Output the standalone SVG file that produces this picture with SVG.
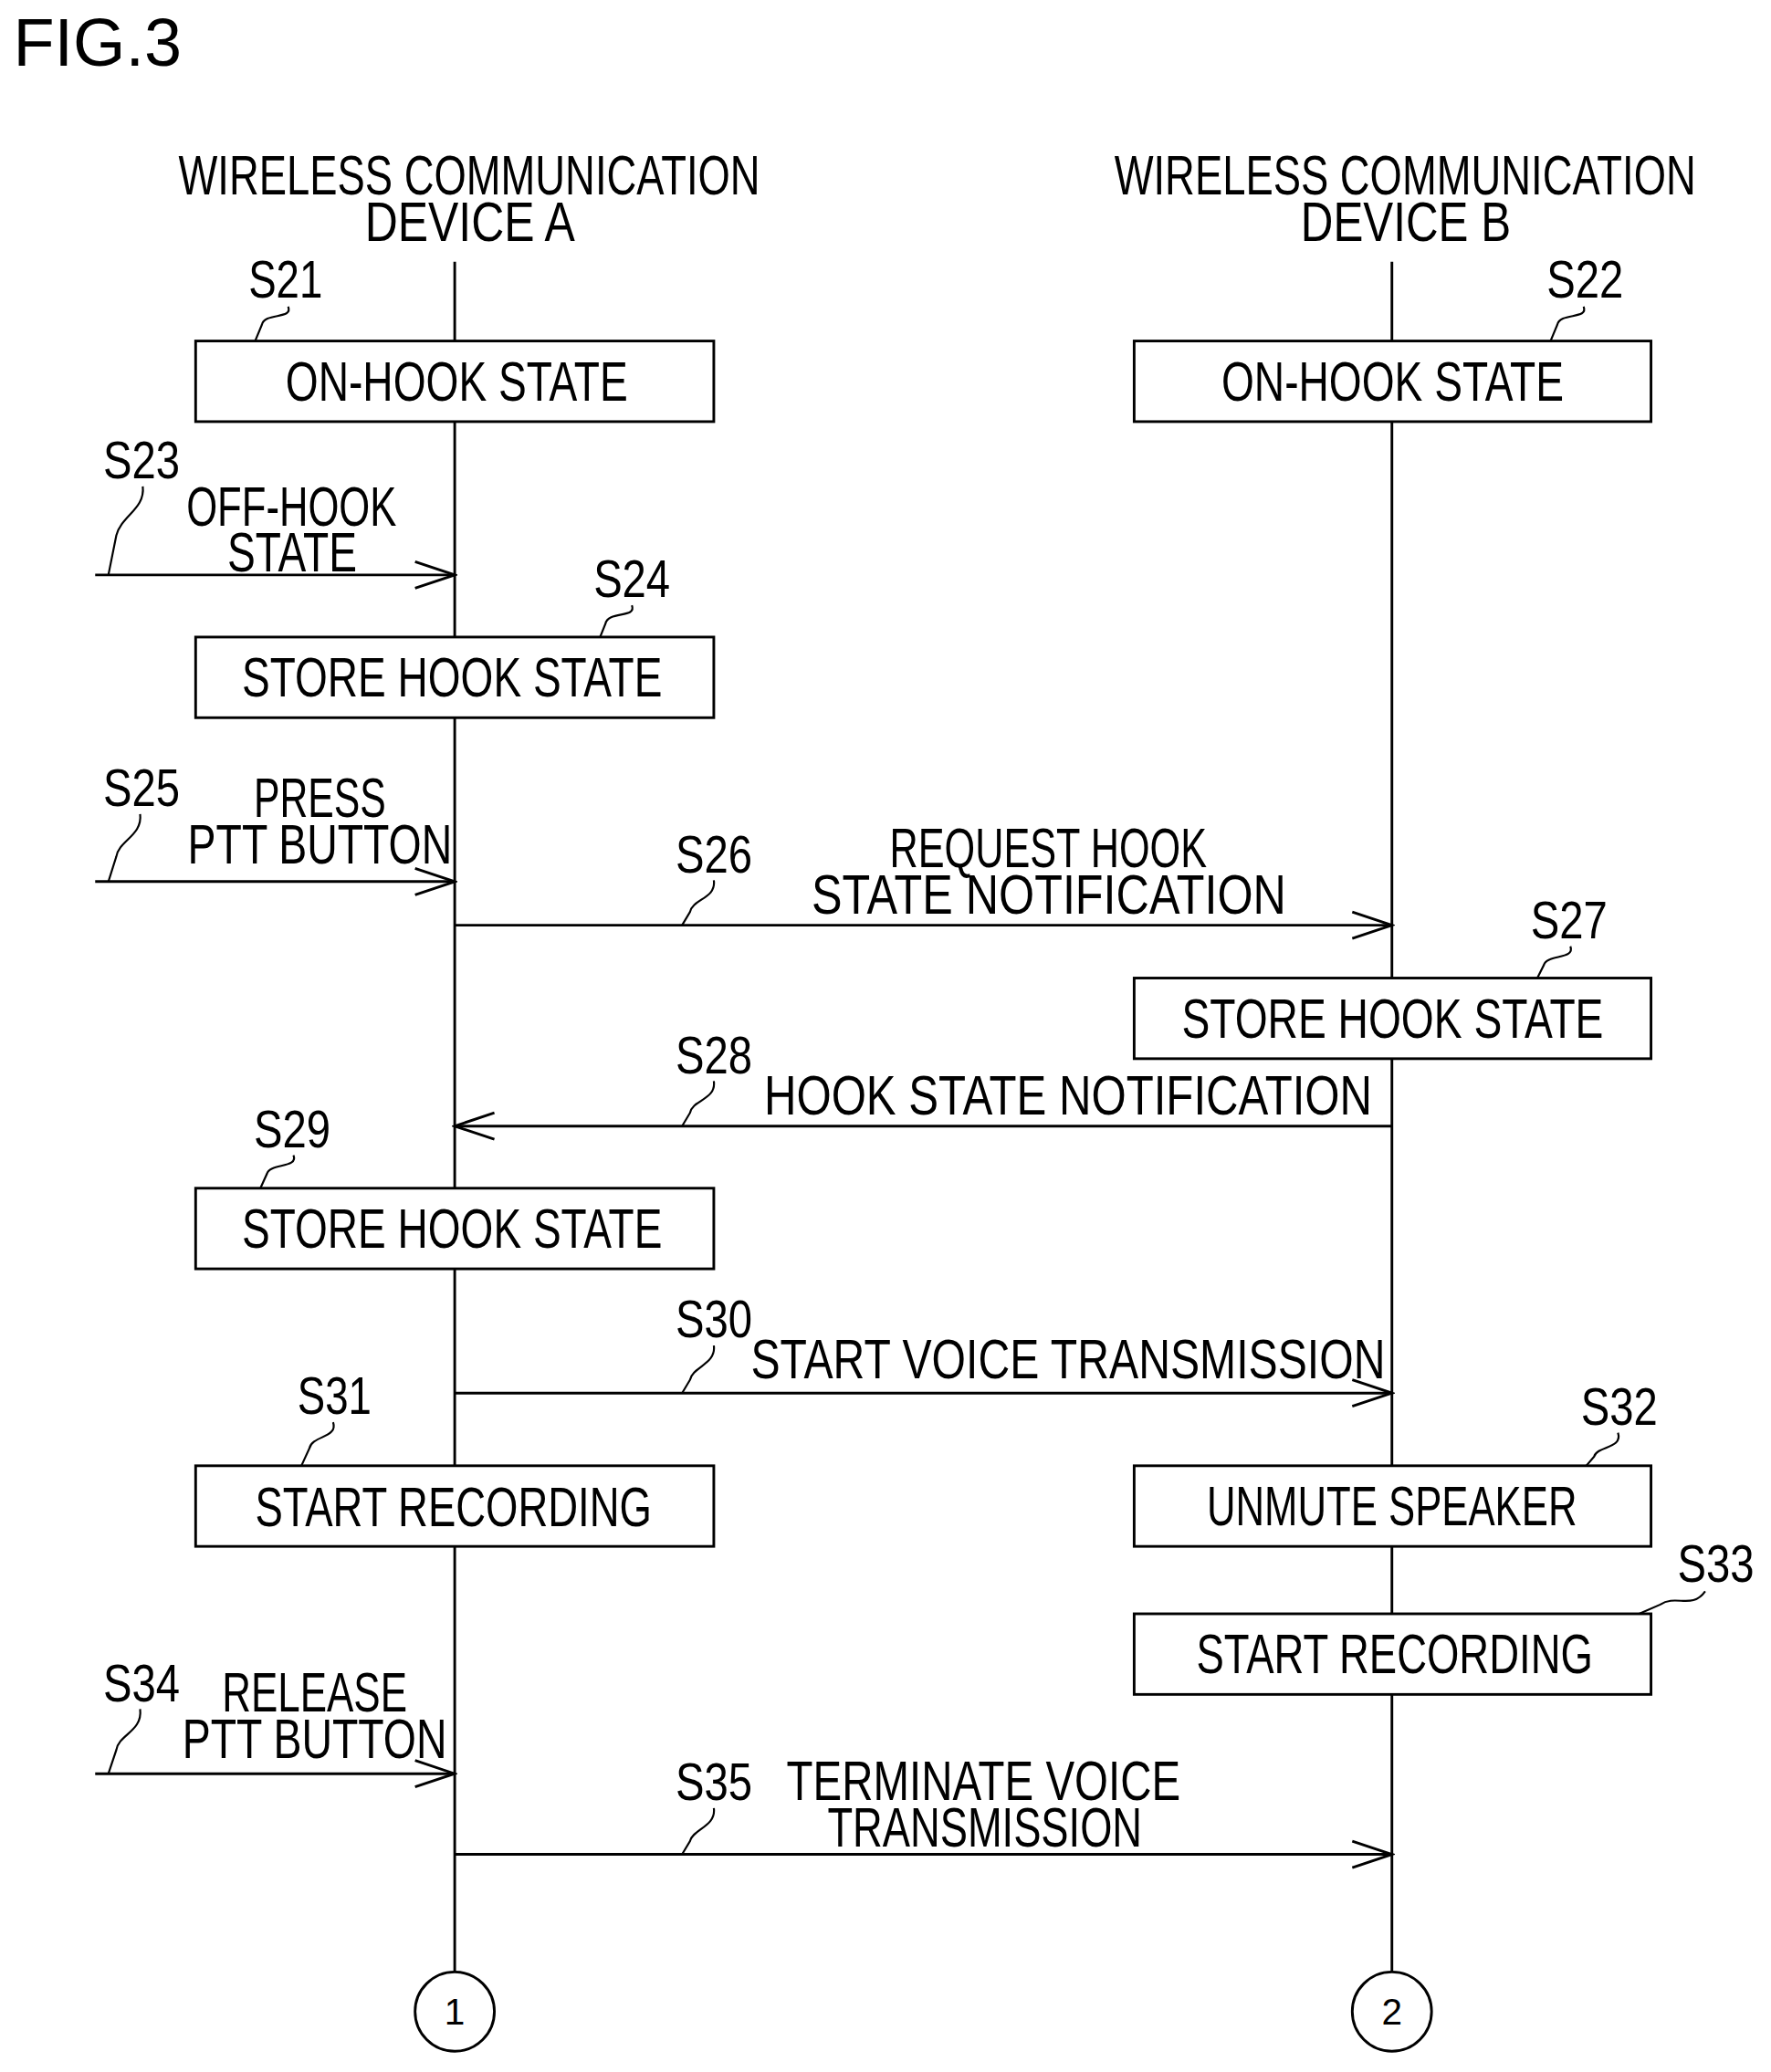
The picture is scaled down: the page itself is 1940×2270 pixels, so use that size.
<svg xmlns="http://www.w3.org/2000/svg" width="1940" height="2270" viewBox="0 0 1940 2270">
<defs>
<style>
.t{font-family:"Liberation Sans",Arial,sans-serif;font-size:42px;fill:#000}
.s{font-family:"Liberation Sans",Arial,sans-serif;font-size:40px;fill:#000}
.ln{stroke:#000;stroke-width:2;fill:none}
.bx{stroke:#000;stroke-width:2;fill:#fff}
.ld{stroke:#000;stroke-width:1.5;fill:none}
</style>
<marker id="ah" markerWidth="34" markerHeight="24" refX="32" refY="12" orient="auto" markerUnits="userSpaceOnUse">
<path d="M2,2 L32,12 L2,22" fill="none" stroke="#000" stroke-width="2"/>
</marker>
</defs>
<rect width="1940" height="2270" fill="#fff"/>
<g transform="scale(1.448,1.448)">
<text x="10" y="50" style="font-family:'Liberation Sans',Arial,sans-serif;font-size:51px">FIG.3</text>

<g id="lifelines">
<line class="ln" x1="344" y1="198" x2="344" y2="1492"/>
<line class="ln" x1="1053" y1="198" x2="1053" y2="1492"/>
</g>
<g id="headerA">
<text class="t" x="135" y="147" textLength="440" lengthAdjust="spacingAndGlyphs">WIRELESS COMMUNICATION</text>
<text class="t" x="276" y="182" textLength="159" lengthAdjust="spacingAndGlyphs">DEVICE A</text>
</g>
<g id="headerB">
<text class="t" x="843" y="147" textLength="440" lengthAdjust="spacingAndGlyphs">WIRELESS COMMUNICATION</text>
<text class="t" x="984" y="182" textLength="159" lengthAdjust="spacingAndGlyphs">DEVICE B</text>
</g>

<g id="connectors">
<line class="ln" x1="72" y1="435" x2="344" y2="435" marker-end="url(#ah)"/>
<line class="ln" x1="72" y1="667" x2="344" y2="667" marker-end="url(#ah)"/>
<line class="ln" x1="344" y1="700" x2="1053" y2="700" marker-end="url(#ah)"/>
<line class="ln" x1="1053" y1="852" x2="344" y2="852" marker-end="url(#ah)"/>
<line class="ln" x1="344" y1="1054" x2="1053" y2="1054" marker-end="url(#ah)"/>
<line class="ln" x1="72" y1="1342" x2="344" y2="1342" marker-end="url(#ah)"/>
<line class="ln" x1="344" y1="1403" x2="1053" y2="1403" marker-end="url(#ah)"/>
</g>

<g id="S21"><rect class="bx" x="148" y="258" width="392" height="61"/><text class="t" x="216" y="303" textLength="259" lengthAdjust="spacingAndGlyphs">ON-HOOK STATE</text></g>
<g id="S22"><rect class="bx" x="858" y="258" width="391" height="61"/><text class="t" x="924" y="303" textLength="259" lengthAdjust="spacingAndGlyphs">ON-HOOK STATE</text></g>
<g id="S24"><rect class="bx" x="148" y="482" width="392" height="61"/><text class="t" x="183" y="527" textLength="318" lengthAdjust="spacingAndGlyphs">STORE HOOK STATE</text></g>
<g id="S27"><rect class="bx" x="858" y="740" width="391" height="61"/><text class="t" x="894" y="785" textLength="319" lengthAdjust="spacingAndGlyphs">STORE HOOK STATE</text></g>
<g id="S29"><rect class="bx" x="148" y="899" width="392" height="61"/><text class="t" x="183" y="944" textLength="318" lengthAdjust="spacingAndGlyphs">STORE HOOK STATE</text></g>
<g id="S31"><rect class="bx" x="148" y="1109" width="392" height="61"/><text class="t" x="193" y="1155" textLength="300" lengthAdjust="spacingAndGlyphs">START RECORDING</text></g>
<g id="S32"><rect class="bx" x="858" y="1109" width="391" height="61"/><text class="t" x="913" y="1154" textLength="280" lengthAdjust="spacingAndGlyphs">UNMUTE SPEAKER</text></g>
<g id="S33"><rect class="bx" x="858" y="1221" width="391" height="61"/><text class="t" x="905" y="1266" textLength="300" lengthAdjust="spacingAndGlyphs">START RECORDING</text></g>

<g id="msgtexts">
<text class="t" x="141" y="398" textLength="159" lengthAdjust="spacingAndGlyphs">OFF-HOOK</text>
<text class="t" x="172" y="432" textLength="98" lengthAdjust="spacingAndGlyphs">STATE</text>
<text class="t" x="192" y="618" textLength="100" lengthAdjust="spacingAndGlyphs">PRESS</text>
<text class="t" x="142" y="653" textLength="200" lengthAdjust="spacingAndGlyphs">PTT BUTTON</text>
<text class="t" x="673" y="656" textLength="240" lengthAdjust="spacingAndGlyphs">REQUEST HOOK</text>
<text class="t" x="614" y="691" textLength="359" lengthAdjust="spacingAndGlyphs">STATE NOTIFICATION</text>
<text class="t" x="578" y="843" textLength="460" lengthAdjust="spacingAndGlyphs">HOOK STATE NOTIFICATION</text>
<text class="t" x="568" y="1043" textLength="480" lengthAdjust="spacingAndGlyphs">START VOICE TRANSMISSION</text>
<text class="t" x="168" y="1295" textLength="140" lengthAdjust="spacingAndGlyphs">RELEASE</text>
<text class="t" x="138" y="1330" textLength="200" lengthAdjust="spacingAndGlyphs">PTT BUTTON</text>
<text class="t" x="595" y="1362" textLength="298" lengthAdjust="spacingAndGlyphs">TERMINATE VOICE</text>
<text class="t" x="626" y="1397" textLength="238" lengthAdjust="spacingAndGlyphs">TRANSMISSION</text>
</g>

<g id="steplabels">
<text class="s" x="188" y="225" textLength="56" lengthAdjust="spacingAndGlyphs">S21</text>
<path class="ld" d="M218,232 C222,242 200,236 198,246 L193,258"/>
<text class="s" x="1170" y="225" textLength="58" lengthAdjust="spacingAndGlyphs">S22</text>
<path class="ld" d="M1198,232 C1202,242 1180,236 1178,246 L1173,258"/>
<text class="s" x="78" y="362" textLength="58" lengthAdjust="spacingAndGlyphs">S23</text>
<path class="ld" d="M108,368 C110,385 92,390 88,405 L82,435"/>
<text class="s" x="449" y="452" textLength="58" lengthAdjust="spacingAndGlyphs">S24</text>
<path class="ld" d="M478,458 C482,468 460,462 458,472 L454,482"/>
<text class="s" x="78" y="610" textLength="58" lengthAdjust="spacingAndGlyphs">S25</text>
<path class="ld" d="M106,616 C108,632 90,636 88,648 L82,667"/>
<text class="s" x="511" y="660" textLength="58" lengthAdjust="spacingAndGlyphs">S26</text>
<path class="ld" d="M540,666 C542,680 524,680 522,690 L516,700"/>
<text class="s" x="1158" y="710" textLength="58" lengthAdjust="spacingAndGlyphs">S27</text>
<path class="ld" d="M1188,716 C1192,726 1170,722 1168,730 L1163,740"/>
<text class="s" x="511" y="812" textLength="58" lengthAdjust="spacingAndGlyphs">S28</text>
<path class="ld" d="M540,818 C542,832 524,832 522,842 L516,852"/>
<text class="s" x="192" y="868" textLength="58" lengthAdjust="spacingAndGlyphs">S29</text>
<path class="ld" d="M222,874 C226,884 204,880 202,888 L197,899"/>
<text class="s" x="511" y="1012" textLength="58" lengthAdjust="spacingAndGlyphs">S30</text>
<path class="ld" d="M540,1018 C542,1032 524,1034 522,1044 L516,1054"/>
<text class="s" x="225" y="1070" textLength="56" lengthAdjust="spacingAndGlyphs">S31</text>
<path class="ld" d="M252,1076 C256,1088 236,1086 234,1096 L228,1109"/>
<text class="s" x="1196" y="1078" textLength="58" lengthAdjust="spacingAndGlyphs">S32</text>
<path class="ld" d="M1224,1084 C1228,1096 1208,1094 1206,1102 L1200,1109"/>
<text class="s" x="1269" y="1197" textLength="58" lengthAdjust="spacingAndGlyphs">S33</text>
<path class="ld" d="M1290,1204 C1280,1218 1268,1206 1256,1214 L1240,1221"/>
<text class="s" x="78" y="1287" textLength="58" lengthAdjust="spacingAndGlyphs">S34</text>
<path class="ld" d="M106,1293 C108,1310 90,1312 88,1324 L82,1342"/>
<text class="s" x="511" y="1362" textLength="58" lengthAdjust="spacingAndGlyphs">S35</text>
<path class="ld" d="M540,1368 C542,1382 524,1384 522,1393 L516,1403"/>
</g>

<g id="conn1"><circle class="bx" cx="344" cy="1522" r="30"/><text class="s" x="344" y="1532" text-anchor="middle" style="font-size:28px">1</text></g>
<g id="conn2"><circle class="bx" cx="1053" cy="1522" r="30"/><text class="s" x="1053" y="1532" text-anchor="middle" style="font-size:28px">2</text></g>
</g>
</svg>
